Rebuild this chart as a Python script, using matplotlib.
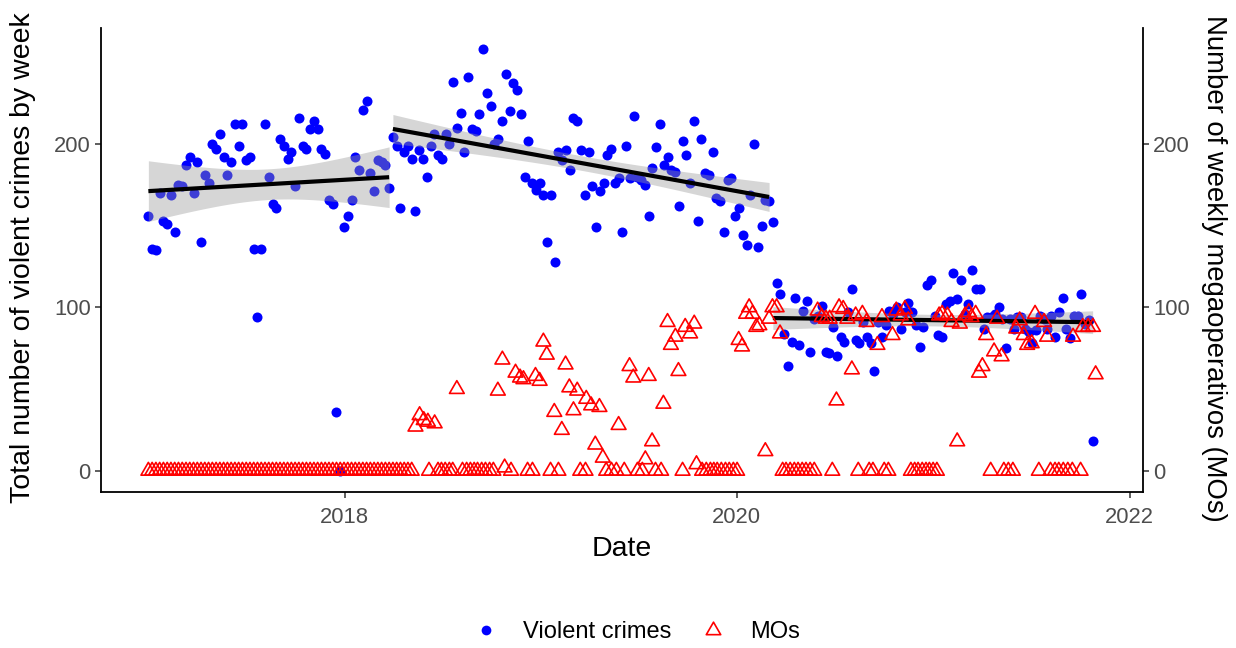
import numpy as np
import matplotlib
matplotlib.use("Agg")
import matplotlib.pyplot as plt
import matplotlib.dates as mdates
from matplotlib.lines import Line2D
from matplotlib.path import Path
import datetime as dt

plt.rcParams['font.family'] = ['Liberation Sans', 'DejaVu Sans']

# ---------------- data ----------------
start_date = dt.date(2017, 1, 1)   # week 0

# weekly violent crimes (one value per week from start_date)
violent = [
    156, 136, 135, 170, 153, 151, 169, 146, 175, 174,
    187, 192, 170, 189, 140, 181, 176, 200, 197, 206,
    192, 181, 189, 212, 199, 212, 190, 192, 136, 94,
    136, 212, 180, 163, 161, 203, 199, 191, 195, 174,
    216, 199, 197, 209, 214, 209, 197, 194, 166, 163,
    36, 0, 149, 156, 166, 192, 184, 221, 226, 182,
    171, 190, 189, 187, 173, 204, 199, 161, 195, 199,
    191, 159, 196, 191, 180, 199, 206, 193, 191, 206,
    200, 238, 210, 219, 195, 241, 209, 208, 218, 258,
    231, 223, 200, 203, 214, 243, 220, 237, 233, 218,
    180, 202, 176, 172, 176, 169, 140, 169, 128, 195,
    190, 196, 184, 216, 214, 196, 169, 195, 174, 149,
    171, 176, 193, 197, 176, 179, 146, 199, 179, 217,
    180, 178, 175, 156, 185, 198, 212, 187, 192, 184,
    183, 162, 202, 193, 176, 214, 153, 203, 182, 181,
    195, 167, 165, 146, 178, 179, 156, 161, 144, 138,
    169, 200, 137, 150, 166, 165, 152, 115, 108, 84,
    64, 79, 106, 77, 98, 104, 73, 93, 95, 101,
    73, 72, 88, 70, 82, 79, 97, 111, 80, 78,
    91, 82, 78, 61, 91, 82, 89, 98, 96, 100,
    87, 97, 103, 97, 89, 76, 88, 114, 117, 95,
    83, 82, 102, 104, 121, 105, 117, 96, 102, 123,
    111, 111, 87, 94, 94, 96, 100, 93, 75, 93,
    87, 94, 94, 87, 85, 78, 86, 95, 93, 87,
    95, 82, 97, 106, 87, 81, 95, 95, 108, 90,
    92, 18,
]

# first week index of the 2nd and 3rd periods (separate linear fits)
period_starts = [65, 166]

# megaoperativos: week position (weeks since start_date) and count
mo_week = [
    0, 1, 2, 3, 4, 5, 6, 7, 8, 9, 10, 11, 12, 13, 14, 15, 16, 17, 18, 19,
    20, 21, 22, 23, 24, 25, 26, 27, 28, 29, 30, 31, 32, 33, 34, 35, 36, 37, 38, 39,
    40, 41, 42, 43, 44, 45, 46, 47, 48, 49, 50, 51, 52, 53, 54, 55, 56, 57, 58, 59,
    60, 61, 62, 63, 64, 65, 66, 67, 68, 69, 70,
    71.0, 72.1, 73.2, 74.3, 74.6, 76.1, 77.0, 77.9, 78.9, 80.0, 80.9, 82.0,
    83.5, 84.6, 85.6, 86.6, 87.5, 88.6, 89.6, 90.7, 91.7,
    92.9, 94.1, 94.7, 96.4, 97.6, 98.8, 99.7, 100.8, 102.1, 102.9, 104.0, 105.0,
    105.9, 106.9, 107.9, 109.0, 109.9, 110.9, 111.9, 113.0, 114.0, 114.8, 116.2,
    116.4, 117.7, 118.8, 119.9, 120.8, 121.7, 123.1, 124.4, 125.0, 126.5, 127.9,
    128.9, 130.0, 131.3, 132.1, 133.0, 133.9, 134.8, 136.3, 136.9, 138.0, 138.9,
    140.1, 140.9, 142.0, 142.7, 144.0, 145.1, 145.7,
    147.2, 148.3, 149.4, 150.3, 151.2, 152.3, 153.4, 154.4, 155.5, 156.5,
    156.9, 157.8, 158.9, 159.7, 160.6, 161.6, 162.4, 164.0, 165.0, 165.9, 167.0, 167.9,
    168.6, 169.5, 170.6, 171.7, 172.7, 173.8, 174.8, 175.9, 177.0,
    177.9, 179.0, 180.1, 181.1, 181.8, 182.9, 183.6, 184.7, 185.8, 187.0, 188.0,
    188.7, 189.8, 190.9, 191.6, 192.6, 193.8, 195.0, 195.6, 196.7, 197.8, 198.8,
    200.0, 201.1, 202.0,
    202.7, 203.7, 204.6, 205.7, 206.7, 207.6, 208.6, 209.6,
    210.2, 211.0, 212.4, 213.5, 215.0, 215.7, 217.1, 218.1, 218.8, 219.9, 220.8,
    221.7, 222.7, 223.9, 224.8, 225.6, 226.8, 227.4, 228.6, 229.8, 230.7, 231.6,
    232.7, 233.6, 234.8, 235.7, 236.7, 238.1, 238.9, 239.8, 241.0, 242.0, 243.2,
    244.4, 245.6, 245.8, 247.8, 248.4, 249.8, 251.1, 251.8,
]
mo_count = [
    0, 0, 0, 0, 0, 0, 0, 0, 0, 0, 0, 0, 0, 0, 0, 0, 0, 0, 0, 0,
    0, 0, 0, 0, 0, 0, 0, 0, 0, 0, 0, 0, 0, 0, 0, 0, 0, 0, 0, 0,
    0, 0, 0, 0, 0, 0, 0, 0, 0, 0, 0, 0, 0, 0, 0, 0, 0, 0, 0, 0,
    0, 0, 0, 0, 0, 0, 0, 0, 0, 0, 0,
    27, 34, 31, 30, 0, 29, 0, 0, 0, 0, 0, 50,
    0, 0, 0, 0, 0, 0, 0, 0, 0,
    49, 68, 2, 0, 60, 57, 56, 0, 0, 58, 55, 79,
    71, 0, 36, 0, 25, 65, 51, 37, 49, 0, 0,
    44, 40, 16, 39, 8, 0, 0, 0, 28, 0, 64,
    57, 0, 0, 7, 58, 18, 0, 0, 41, 91, 77,
    82, 61, 0, 88, 84, 90, 4,
    0, 0, 0, 0, 0, 0, 0, 0, 0, 0,
    80, 76, 96, 100, 96, 88, 89, 12, 93, 100, 100, 84,
    0, 0, 0, 0, 0, 0, 0, 0, 0,
    98, 94, 93, 93, 0, 43, 100, 99, 93, 62, 95,
    0, 96, 91, 0, 0, 77, 94, 0, 0, 83, 98,
    95, 99, 92,
    0, 0, 0, 0, 0, 0, 0, 0,
    95, 96, 95, 91, 18, 90, 95, 97, 94, 96, 60,
    64, 83, 0, 73, 93, 70, 0, 0, 0, 87, 92,
    83, 77, 78, 96, 0, 91, 82, 0, 0, 0, 0,
    0, 0, 82, 0, 88, 88, 88, 59,
]

# ---------------- derived x values ----------------
date0 = mdates.date2num(start_date)
wk_v = np.arange(len(violent), dtype=float)
x_v = date0 + 7 * wk_v
y_v = np.array(violent, dtype=float)
x_m = date0 + 7 * np.array(mo_week, dtype=float)
y_m = np.array(mo_count, dtype=float)

# ---------------- figure ----------------
W, H = 1236, 648
fig = plt.figure(figsize=(W / 100, H / 100), dpi=100)
ax = fig.add_axes([101 / W, 156 / H, 1042 / W, 464 / H])

blue = '#0000FF'
red = '#FF0000'

ax.scatter(x_v, y_v, s=52, color=blue, linewidths=0, zorder=2)

# separate linear fits with 95% CI
bounds = [0] + period_starts + [len(violent)]
for a, b in zip(bounds[:-1], bounds[1:]):
    xs = wk_v[a:b]
    ys = y_v[a:b]
    n = len(xs)
    slope, icpt = np.polyfit(xs, ys, 1)
    resid = ys - (slope * xs + icpt)
    s = np.sqrt(np.sum(resid ** 2) / (n - 2))
    xbar = xs.mean()
    sxx = np.sum((xs - xbar) ** 2)
    grid = np.linspace(xs.min(), xs.max(), 80)
    fit = slope * grid + icpt
    se = s * np.sqrt(1.0 / n + (grid - xbar) ** 2 / sxx)
    tval = 1.99
    gx = date0 + 7 * grid
    ax.fill_between(gx, fit - tval * se, fit + tval * se, color='#999999',
                    alpha=0.4, linewidth=0, zorder=3)
    ax.plot(gx, fit, color='black', lw=3.0, zorder=4, solid_capstyle='butt')

# triangle marker centred on its centroid (like ggplot shape 2)
tri = Path([(0, 1), (-0.866, -0.5), (0.866, -0.5), (0, 1)],
           [Path.MOVETO, Path.LINETO, Path.LINETO, Path.CLOSEPOLY])
ax.scatter(x_m, y_m, marker=tri, s=150, facecolors='none', edgecolors=red,
           linewidths=1.2, zorder=5)

# limits with 5% expansion
xmin = min(x_v.min(), x_m.min())
xmax = max(x_v.max(), x_m.max())
xr = xmax - xmin
ax.set_xlim(xmin - 0.05 * xr, xmax + 0.05 * xr)
ymax = max(y_v.max(), y_m.max())
ax.set_ylim(-0.05 * ymax, ymax * 1.05)

year_ticks = [2018, 2020, 2022]
ax.set_xticks([mdates.date2num(dt.date(y, 1, 1)) for y in year_ticks])
ax.set_xticklabels([str(y) for y in year_ticks])
ax.set_yticks([0, 100, 200])

tick_kw = dict(length=4.3, width=1.1, color='#333333', labelcolor='#4D4D4D',
               labelsize=15.8)
ax.tick_params(axis='x', pad=6.5, **tick_kw)
ax.tick_params(axis='y', pad=3, **tick_kw)

for sp in ['top', 'right']:
    ax.spines[sp].set_visible(False)
for sp in ['left', 'bottom']:
    ax.spines[sp].set_linewidth(1.3)
    ax.spines[sp].set_color('black')

ax2 = ax.twinx()
ax2.set_ylim(ax.get_ylim())
ax2.set_yticks([0, 100, 200])
ax2.tick_params(axis='y', pad=3, **tick_kw)
for sp in ['top', 'left', 'bottom']:
    ax2.spines[sp].set_visible(False)
ax2.spines['right'].set_linewidth(1.3)
ax2.spines['right'].set_color('black')

# axis titles
fig.text(622 / W, 1 - 549 / H, 'Date', ha='center', va='center', fontsize=20.5)
fig.text(23 / W, 1 - 258 / H, 'Total number of violent crimes by week',
         rotation=90, ha='center', va='center', fontsize=20.5)
fig.text(1214 / W, 1 - 268 / H, 'Number of weekly megaoperativos (MOs)',
         rotation=-90, ha='center', va='center', fontsize=19.8)

# legend
handles = [
    Line2D([], [], linestyle='none', marker='o', markersize=7.0,
           markerfacecolor=blue, markeredgecolor=blue, markeredgewidth=0),
    Line2D([], [], linestyle='none', marker=tri, markersize=12,
           markerfacecolor='none', markeredgecolor=red, markeredgewidth=1.2),
]
fig.legend(handles, ['Violent crimes', 'MOs'], loc='center',
           bbox_to_anchor=(0.5155, 1 - 632 / H), ncol=2, frameon=False,
           fontsize=17, handlelength=1.0, handletextpad=1.07,
           columnspacing=1.24)

fig.savefig('out.png', dpi=100)
